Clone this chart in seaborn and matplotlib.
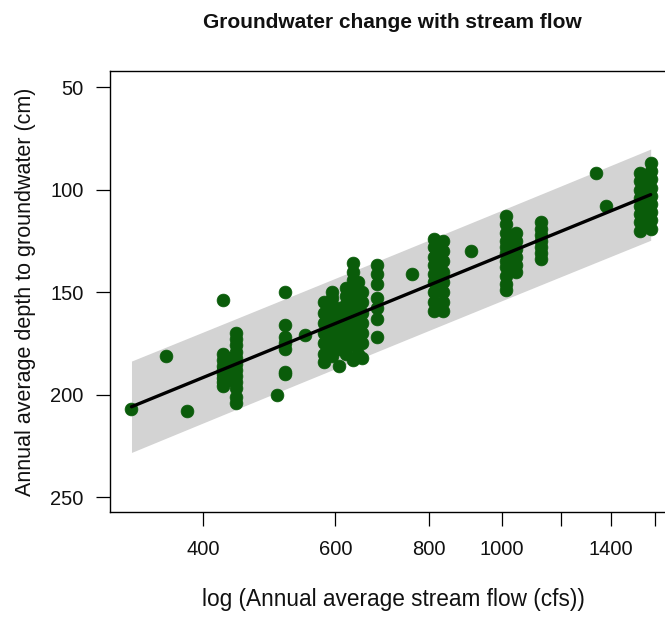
import numpy as np
import pandas as pd
import matplotlib
matplotlib.use("Agg")
import matplotlib.pyplot as plt
import seaborn as sns

# Station flow (cfs) and the annual depths to groundwater (cm) observed at that flow
station_flow = [321, 357, 381, 425, 432, 443, 502, 514, 547,
                580, 594, 607, 620, 634, 643, 652, 681, 760,
                812, 835, 909, 1013, 1045, 1128, 1335, 1376,
                1530, 1560, 1580]
station_depths = [
    [207],
    [181],
    [208],
    [154, 180, 183, 186, 188, 190, 192, 194, 196],
    [182, 186, 190, 193],
    [170, 173, 176, 179, 182, 185, 188, 191, 194, 197, 201, 204],
    [200],
    [150, 166, 172, 175, 178, 189, 190],
    [171],
    [155, 160, 165, 170, 175, 180, 184],
    [150, 153, 157, 161, 165, 169, 173, 177, 181],
    [158, 162, 166, 170, 174, 178, 186],
    [148, 152, 156, 160, 164, 168, 172, 176, 180],
    [136, 140, 144, 148, 152, 156, 160, 164, 168, 172, 176, 183],
    [145, 150, 155, 160, 165, 170, 175, 180],
    [150, 155, 160, 165, 170, 175, 182],
    [137, 141, 146, 153, 158, 163, 172],
    [141],
    [124, 128, 133, 137, 141, 145, 150, 155, 159],
    [125, 130, 135, 140, 145, 150, 155, 159],
    [130],
    [113, 117, 121, 125, 128, 131, 135, 138, 142, 146, 149],
    [121, 125, 129, 133, 137, 140],
    [116, 119, 122, 125, 128, 131, 134],
    [92],
    [108],
    [92, 96, 100, 104, 108, 112, 116, 120],
    [94, 98, 102, 106, 110, 114, 118],
    [87, 91, 95, 99, 103, 107, 111, 115, 119],
]

x_ticks = [400, 600, 800, 1000, 1200, 1400, 1600]
x_tick_labels = ["400", "600", "800", "1000", "", "1400", ""]
y_ticks = [50, 100, 150, 200, 250]

flow = [f for f, ds in zip(station_flow, station_depths) for _ in ds]
depth = [d for ds in station_depths for d in ds]
df = pd.DataFrame({"flow": flow, "depth": depth})

# Linear fit of depth on log(flow) with a 95% prediction interval
lx = np.log(df["flow"].to_numpy())
yv = df["depth"].to_numpy()
n = len(lx)
slope, intercept = np.polyfit(lx, yv, 1)
resid = yv - (intercept + slope * lx)
s = np.sqrt(np.sum(resid ** 2) / (n - 2))
t = 1.97
grid = np.linspace(lx.min(), lx.max(), 200)
fit = intercept + slope * grid
half = t * s * np.sqrt(1 + 1 / n + (grid - lx.mean()) ** 2 / np.sum((lx - lx.mean()) ** 2))
band = pd.DataFrame({"flow": np.exp(grid), "fit": fit, "lo": fit - half, "hi": fit + half})

sns.set_style("white")
plt.rcParams["font.family"] = ["Liberation Sans", "DejaVu Sans"]

W, H = 665, 620
fig = plt.figure(figsize=(W / 100, H / 100), dpi=100)
ax = fig.add_axes([110 / W, 1 - 512 / H, 567 / W, (512 - 70.7) / H])

ax.fill_between(band["flow"], band["lo"], band["hi"], color="#d3d3d3", linewidth=0, zorder=1)
sns.scatterplot(data=df, x="flow", y="depth", ax=ax, color="#0a5c0a", s=85,
                edgecolor="#0a5c0a", linewidth=0.5, zorder=2, legend=False)
sns.lineplot(data=band, x="flow", y="fit", ax=ax, color="black", linewidth=2.4, zorder=3)

ax.set_xscale("log")
ax.set_xlim(300.5, 1713)
ax.set_ylim(257.3, 42)
ax.set_xticks(x_ticks)
ax.set_xticklabels(x_tick_labels)
ax.xaxis.set_minor_locator(matplotlib.ticker.NullLocator())
ax.set_yticks(y_ticks)
ax.set_yticklabels([str(v) for v in y_ticks])

for sp in ax.spines.values():
    sp.set_visible(True)
    sp.set_color("black")
    sp.set_linewidth(1.0)

ax.tick_params(axis="both", direction="out", length=10, width=0.9, color="black",
               labelsize=14.5, labelcolor="#111111", bottom=True, left=True)
ax.tick_params(axis="x", pad=10)
ax.tick_params(axis="y", pad=9)

ax.set_xlabel("log (Annual average stream flow (cfs))", fontsize=16.3, labelpad=21, color="#111111")
ax.set_ylabel("Annual average depth to groundwater (cm)", fontsize=15.5, labelpad=10, color="#111111")
fig.text(392 / W, 1 - 22 / H, "Groundwater change with stream flow", ha="center", va="center",
         fontsize=15, fontweight="bold", color="#111111")

fig.savefig("out.png", dpi=100)
